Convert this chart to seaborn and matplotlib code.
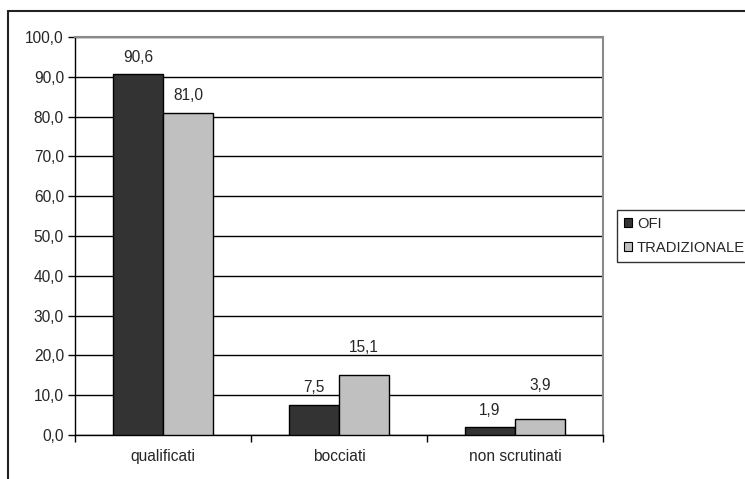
import matplotlib
matplotlib.use("Agg")
import matplotlib.pyplot as plt
import seaborn as sns
import pandas as pd
from matplotlib.lines import Line2D
from matplotlib.patches import Patch
from matplotlib.ticker import FuncFormatter, FixedLocator

categories = ["qualificati", "bocciati", "non scrutinati"]
series_names = ["OFI", "TRADIZIONALE"]
ofi = [90.6, 7.5, 1.9]
tradizionale = [81.0, 15.1, 3.9]
colors = ["#333333", "#c0c0c0"]

# vertical gap (points) between each bar top and the centre of its value label
label_gaps = {
    "OFI": [12.2, 12.8, 12.2],
    "TRADIZIONALE": [12.2, 19.4, 24.5],
}

df = pd.DataFrame({
    "categoria": categories * 2,
    "serie": [series_names[0]] * 3 + [series_names[1]] * 3,
    "valore": ofi + tradizionale,
})

sns.set_style("white")
plt.rcParams["font.family"] = ["Liberation Sans", "DejaVu Sans"]
FS = 11.2

fig = plt.figure(figsize=(7.45, 4.79), dpi=100)
ax = fig.add_axes([75 / 745, 1 - 435 / 479, (603 - 75) / 745, (435 - 37) / 479])

sns.barplot(data=df, x="categoria", y="valore", hue="serie", order=categories,
            hue_order=series_names, palette=colors, width=0.57,
            edgecolor="black", linewidth=1.0, ax=ax, legend=False, zorder=3)

ax.set_ylim(0, 100)
ax.set_xlim(-0.5, 2.5)
ax.set_yticks(range(0, 101, 10))
ax.yaxis.set_major_formatter(FuncFormatter(lambda v, p: f"{v:.1f}".replace(".", ",")))
ax.grid(axis="y", color="black", linewidth=1.0, zorder=0)
ax.set_axisbelow(True)
ax.set_xlabel("")
ax.set_ylabel("")

ax.tick_params(axis="y", length=5, width=1, color="black", labelsize=FS, pad=3, left=True)
ax.tick_params(axis="x", which="major", length=0, labelsize=FS, pad=10)
ax.xaxis.set_minor_locator(FixedLocator([-0.5, 0.5, 1.5, 2.5]))
ax.tick_params(axis="x", which="minor", length=5, width=1, color="black", bottom=True)

for side in ("left", "bottom"):
    ax.spines[side].set_color("black")
    ax.spines[side].set_linewidth(1.0)
for side in ("top", "right"):
    ax.spines[side].set_color("#8a8a8a")
    ax.spines[side].set_linewidth(1.5)

for name, container in zip(series_names, ax.containers):
    for bar, gap in zip(container, label_gaps[name]):
        h = bar.get_height()
        ax.annotate(f"{h:.1f}".replace(".", ","),
                    (bar.get_x() + bar.get_width() / 2, h),
                    xytext=(0, gap), textcoords="offset points",
                    ha="center", va="center", fontsize=FS)

handles = [Patch(facecolor=c, edgecolor="black", linewidth=0.8) for c in colors]
leg = fig.legend(handles, series_names, loc="upper left",
                 bbox_to_anchor=(617 / 745, 1 - 210 / 479),
                 frameon=True, fancybox=False, fontsize=10.6,
                 handlelength=0.6, handleheight=0.6, handletextpad=0.3,
                 borderpad=0.45, labelspacing=0.7, borderaxespad=0)
leg.get_frame().set_edgecolor("black")
leg.get_frame().set_linewidth(1.0)

# outer chart frame
fig.add_artist(Line2D([8 / 745, 8 / 745], [0, 1 - 11 / 479], transform=fig.transFigure,
                      color="#222222", linewidth=1.5))
fig.add_artist(Line2D([8 / 745, 1], [1 - 11 / 479, 1 - 11 / 479], transform=fig.transFigure,
                      color="#222222", linewidth=1.5))

fig.savefig("out.png", dpi=100)
